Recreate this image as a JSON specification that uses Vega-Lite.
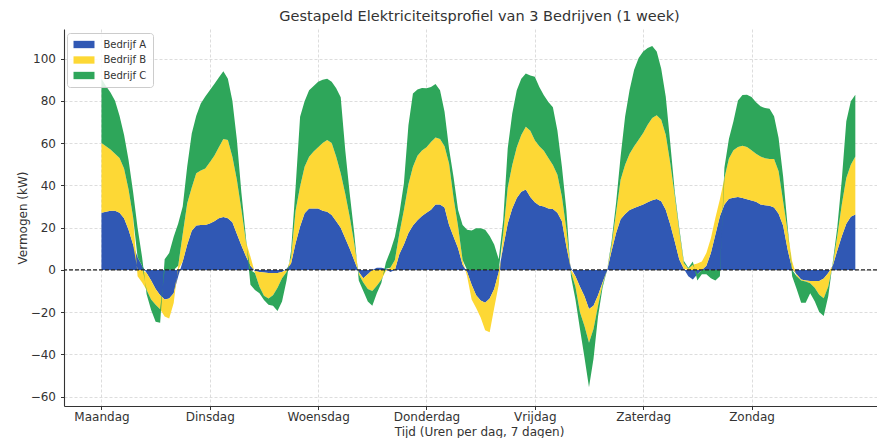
{
  "$schema": "https://vega.github.io/schema/vega-lite/v6.json",
  "width": 813,
  "height": 377,
  "autosize": {"type": "none"},
  "padding": {"left": 64, "top": 29, "right": 0, "bottom": 32},
  "background": "white",
  "title": {"text": "Gestapeld Elektriciteitsprofiel van 3 Bedrijven (1 week)", "font": "DejaVu Sans", "fontSize": 14.5, "fontWeight": "normal", "color": "#333333", "anchor": "middle", "dx": 9, "offset": 5},
  "layer": [
    {
      "data": {"values": [
        {"uur":0,"Bedrijf A":27,"Bedrijf B":33,"Bedrijf C":30.5},
        {"uur":1,"Bedrijf A":27.5,"Bedrijf B":31,"Bedrijf C":28.5},
        {"uur":2,"Bedrijf A":28,"Bedrijf B":29,"Bedrijf C":27},
        {"uur":3,"Bedrijf A":28,"Bedrijf B":27,"Bedrijf C":25},
        {"uur":4,"Bedrijf A":27,"Bedrijf B":26,"Bedrijf C":20},
        {"uur":5,"Bedrijf A":24.5,"Bedrijf B":23.5,"Bedrijf C":16},
        {"uur":6,"Bedrijf A":19,"Bedrijf B":19,"Bedrijf C":14},
        {"uur":7,"Bedrijf A":12,"Bedrijf B":13,"Bedrijf C":12},
        {"uur":8,"Bedrijf A":6,"Bedrijf B":-3,"Bedrijf C":14},
        {"uur":9,"Bedrijf A":2,"Bedrijf B":-6,"Bedrijf C":4},
        {"uur":10,"Bedrijf A":-1.5,"Bedrijf B":-8,"Bedrijf C":-2},
        {"uur":11,"Bedrijf A":-5,"Bedrijf B":-9,"Bedrijf C":-5},
        {"uur":12,"Bedrijf A":-9,"Bedrijf B":-7.5,"Bedrijf C":-8},
        {"uur":13,"Bedrijf A":-12,"Bedrijf B":-6.6,"Bedrijf C":-6.4},
        {"uur":14,"Bedrijf A":-14,"Bedrijf B":-8,"Bedrijf C":5},
        {"uur":15,"Bedrijf A":-13.5,"Bedrijf B":-9.5,"Bedrijf C":8},
        {"uur":16,"Bedrijf A":-11,"Bedrijf B":-4.7,"Bedrijf C":15.7},
        {"uur":17,"Bedrijf A":-3,"Bedrijf B":2,"Bedrijf C":20},
        {"uur":18,"Bedrijf A":4,"Bedrijf B":13,"Bedrijf C":13},
        {"uur":19,"Bedrijf A":12,"Bedrijf B":19.5,"Bedrijf C":17.5},
        {"uur":20,"Bedrijf A":18.5,"Bedrijf B":20.5,"Bedrijf C":25.5},
        {"uur":21,"Bedrijf A":21,"Bedrijf B":24.7,"Bedrijf C":27.3},
        {"uur":22,"Bedrijf A":21.3,"Bedrijf B":25.7,"Bedrijf C":31.7},
        {"uur":23,"Bedrijf A":21.3,"Bedrijf B":26.7,"Bedrijf C":34},
        {"uur":24,"Bedrijf A":22,"Bedrijf B":29,"Bedrijf C":34},
        {"uur":25,"Bedrijf A":23,"Bedrijf B":31,"Bedrijf C":34},
        {"uur":26,"Bedrijf A":24.5,"Bedrijf B":33.5,"Bedrijf C":33},
        {"uur":27,"Bedrijf A":25,"Bedrijf B":37,"Bedrijf C":32},
        {"uur":28,"Bedrijf A":24.5,"Bedrijf B":37,"Bedrijf C":29},
        {"uur":29,"Bedrijf A":22.5,"Bedrijf B":31,"Bedrijf C":26.5},
        {"uur":30,"Bedrijf A":17,"Bedrijf B":25.5,"Bedrijf C":19},
        {"uur":31,"Bedrijf A":11.5,"Bedrijf B":17,"Bedrijf C":8},
        {"uur":32,"Bedrijf A":6.5,"Bedrijf B":7,"Bedrijf C":2},
        {"uur":33,"Bedrijf A":2,"Bedrijf B":4.3,"Bedrijf C":-7},
        {"uur":34,"Bedrijf A":-0.5,"Bedrijf B":-1,"Bedrijf C":-8},
        {"uur":35,"Bedrijf A":-1,"Bedrijf B":-7,"Bedrijf C":-3},
        {"uur":36,"Bedrijf A":-1.2,"Bedrijf B":-11,"Bedrijf C":-2},
        {"uur":37,"Bedrijf A":-1.5,"Bedrijf B":-12,"Bedrijf C":-3},
        {"uur":38,"Bedrijf A":-1.5,"Bedrijf B":-10.5,"Bedrijf C":-5},
        {"uur":39,"Bedrijf A":-1.5,"Bedrijf B":-7,"Bedrijf C":-11},
        {"uur":40,"Bedrijf A":-1,"Bedrijf B":-3,"Bedrijf C":-11},
        {"uur":41,"Bedrijf A":0.5,"Bedrijf B":-1,"Bedrijf C":-4},
        {"uur":42,"Bedrijf A":3,"Bedrijf B":3,"Bedrijf C":3},
        {"uur":43,"Bedrijf A":12.6,"Bedrijf B":15.4,"Bedrijf C":11},
        {"uur":44,"Bedrijf A":20.5,"Bedrijf B":19,"Bedrijf C":33},
        {"uur":45,"Bedrijf A":26.8,"Bedrijf B":22,"Bedrijf C":31},
        {"uur":46,"Bedrijf A":29,"Bedrijf B":24.5,"Bedrijf C":31.5},
        {"uur":47,"Bedrijf A":29,"Bedrijf B":27,"Bedrijf C":31},
        {"uur":48,"Bedrijf A":29,"Bedrijf B":29,"Bedrijf C":31},
        {"uur":49,"Bedrijf A":28,"Bedrijf B":32,"Bedrijf C":30},
        {"uur":50,"Bedrijf A":27.5,"Bedrijf B":34,"Bedrijf C":29},
        {"uur":51,"Bedrijf A":26,"Bedrijf B":34,"Bedrijf C":29},
        {"uur":52,"Bedrijf A":23,"Bedrijf B":30.5,"Bedrijf C":32.5},
        {"uur":53,"Bedrijf A":20,"Bedrijf B":25.7,"Bedrijf C":36},
        {"uur":54,"Bedrijf A":15,"Bedrijf B":21,"Bedrijf C":20.7},
        {"uur":55,"Bedrijf A":10,"Bedrijf B":15,"Bedrijf C":11},
        {"uur":56,"Bedrijf A":4.5,"Bedrijf B":8,"Bedrijf C":4.7},
        {"uur":57,"Bedrijf A":-1,"Bedrijf B":-1,"Bedrijf C":-3},
        {"uur":58,"Bedrijf A":-4,"Bedrijf B":-2,"Bedrijf C":-4},
        {"uur":59,"Bedrijf A":-2,"Bedrijf B":-7,"Bedrijf C":-6},
        {"uur":60,"Bedrijf A":0,"Bedrijf B":-10,"Bedrijf C":-7},
        {"uur":61,"Bedrijf A":1,"Bedrijf B":-7.5,"Bedrijf C":-3.5},
        {"uur":62,"Bedrijf A":1,"Bedrijf B":-4.7,"Bedrijf C":-1.5},
        {"uur":63,"Bedrijf A":0.5,"Bedrijf B":-0.5,"Bedrijf C":3},
        {"uur":64,"Bedrijf A":-1,"Bedrijf B":1,"Bedrijf C":8},
        {"uur":65,"Bedrijf A":0,"Bedrijf B":4.7,"Bedrijf C":11},
        {"uur":66,"Bedrijf A":7.5,"Bedrijf B":9.8,"Bedrijf C":9.5},
        {"uur":67,"Bedrijf A":12,"Bedrijf B":16.3,"Bedrijf C":12.7},
        {"uur":68,"Bedrijf A":17.5,"Bedrijf B":23,"Bedrijf C":28},
        {"uur":69,"Bedrijf A":21,"Bedrijf B":27.8,"Bedrijf C":34.7},
        {"uur":70,"Bedrijf A":23.5,"Bedrijf B":30.5,"Bedrijf C":31.4},
        {"uur":71,"Bedrijf A":25.5,"Bedrijf B":31,"Bedrijf C":29.6},
        {"uur":72,"Bedrijf A":27,"Bedrijf B":31,"Bedrijf C":28},
        {"uur":73,"Bedrijf A":28.5,"Bedrijf B":32,"Bedrijf C":26},
        {"uur":74,"Bedrijf A":31,"Bedrijf B":31.7,"Bedrijf C":25.3},
        {"uur":75,"Bedrijf A":31,"Bedrijf B":31,"Bedrijf C":23},
        {"uur":76,"Bedrijf A":29.5,"Bedrijf B":29,"Bedrijf C":16.4},
        {"uur":77,"Bedrijf A":21.3,"Bedrijf B":29,"Bedrijf C":7},
        {"uur":78,"Bedrijf A":15.7,"Bedrijf B":18.2,"Bedrijf C":10},
        {"uur":79,"Bedrijf A":10.2,"Bedrijf B":10.3,"Bedrijf C":7.8},
        {"uur":80,"Bedrijf A":2.5,"Bedrijf B":2.2,"Bedrijf C":16.6},
        {"uur":81,"Bedrijf A":-1,"Bedrijf B":-2,"Bedrijf C":19},
        {"uur":82,"Bedrijf A":-7,"Bedrijf B":-7,"Bedrijf C":18.6},
        {"uur":83,"Bedrijf A":-12,"Bedrijf B":-6,"Bedrijf C":19.7},
        {"uur":84,"Bedrijf A":-14.5,"Bedrijf B":-8,"Bedrijf C":19.7},
        {"uur":85,"Bedrijf A":-15.5,"Bedrijf B":-13,"Bedrijf C":19},
        {"uur":86,"Bedrijf A":-13.5,"Bedrijf B":-16,"Bedrijf C":16},
        {"uur":87,"Bedrijf A":-9,"Bedrijf B":-9,"Bedrijf C":12},
        {"uur":88,"Bedrijf A":-1,"Bedrijf B":-6,"Bedrijf C":5},
        {"uur":89,"Bedrijf A":11,"Bedrijf B":6.3,"Bedrijf C":6.3},
        {"uur":90,"Bedrijf A":22,"Bedrijf B":17,"Bedrijf C":18.6},
        {"uur":91,"Bedrijf A":29,"Bedrijf B":20.6,"Bedrijf C":24.4},
        {"uur":92,"Bedrijf A":34,"Bedrijf B":24,"Bedrijf C":27},
        {"uur":93,"Bedrijf A":37,"Bedrijf B":26.8,"Bedrijf C":26.7},
        {"uur":94,"Bedrijf A":38,"Bedrijf B":29.7,"Bedrijf C":25.3},
        {"uur":95,"Bedrijf A":34.5,"Bedrijf B":31.3,"Bedrijf C":26.2},
        {"uur":96,"Bedrijf A":32,"Bedrijf B":29.4,"Bedrijf C":30},
        {"uur":97,"Bedrijf A":30.5,"Bedrijf B":28,"Bedrijf C":28},
        {"uur":98,"Bedrijf A":30,"Bedrijf B":26.4,"Bedrijf C":26.3},
        {"uur":99,"Bedrijf A":29,"Bedrijf B":24,"Bedrijf C":26.5},
        {"uur":100,"Bedrijf A":28.8,"Bedrijf B":20.8,"Bedrijf C":27.4},
        {"uur":101,"Bedrijf A":27,"Bedrijf B":18,"Bedrijf C":21},
        {"uur":102,"Bedrijf A":23,"Bedrijf B":11.6,"Bedrijf C":14.2},
        {"uur":103,"Bedrijf A":11,"Bedrijf B":8,"Bedrijf C":9},
        {"uur":104,"Bedrijf A":1,"Bedrijf B":-1,"Bedrijf C":-2},
        {"uur":105,"Bedrijf A":-3,"Bedrijf B":-5,"Bedrijf C":-6},
        {"uur":106,"Bedrijf A":-8,"Bedrijf B":-12,"Bedrijf C":-8},
        {"uur":107,"Bedrijf A":-12.5,"Bedrijf B":-14,"Bedrijf C":-15},
        {"uur":108,"Bedrijf A":-18.5,"Bedrijf B":-16,"Bedrijf C":-21},
        {"uur":109,"Bedrijf A":-17,"Bedrijf B":-11,"Bedrijf C":-14},
        {"uur":110,"Bedrijf A":-12,"Bedrijf B":-5,"Bedrijf C":-5},
        {"uur":111,"Bedrijf A":-6,"Bedrijf B":-1,"Bedrijf C":-1.5},
        {"uur":112,"Bedrijf A":-0.5,"Bedrijf B":0,"Bedrijf C":0},
        {"uur":113,"Bedrijf A":9,"Bedrijf B":2.5,"Bedrijf C":2},
        {"uur":114,"Bedrijf A":17.5,"Bedrijf B":9.5,"Bedrijf C":4.7},
        {"uur":115,"Bedrijf A":24,"Bedrijf B":18.7,"Bedrijf C":11},
        {"uur":116,"Bedrijf A":26.5,"Bedrijf B":23.3,"Bedrijf C":22.8},
        {"uur":117,"Bedrijf A":28.4,"Bedrijf B":26.6,"Bedrijf C":30.3},
        {"uur":118,"Bedrijf A":29.3,"Bedrijf B":29.2,"Bedrijf C":36.2},
        {"uur":119,"Bedrijf A":30.1,"Bedrijf B":31.5,"Bedrijf C":38.7},
        {"uur":120,"Bedrijf A":30.9,"Bedrijf B":33.9,"Bedrijf C":38.6},
        {"uur":121,"Bedrijf A":32,"Bedrijf B":36.7,"Bedrijf C":36.3},
        {"uur":122,"Bedrijf A":33,"Bedrijf B":38.9,"Bedrijf C":34},
        {"uur":123,"Bedrijf A":33.6,"Bedrijf B":39.6,"Bedrijf C":30.2},
        {"uur":124,"Bedrijf A":32.5,"Bedrijf B":38.5,"Bedrijf C":24.2},
        {"uur":125,"Bedrijf A":28.5,"Bedrijf B":35.5,"Bedrijf C":18.1},
        {"uur":126,"Bedrijf A":21.5,"Bedrijf B":29,"Bedrijf C":9.5},
        {"uur":127,"Bedrijf A":13.4,"Bedrijf B":21.6,"Bedrijf C":2},
        {"uur":128,"Bedrijf A":4.9,"Bedrijf B":13.4,"Bedrijf C":1.5},
        {"uur":129,"Bedrijf A":0.5,"Bedrijf B":2.8,"Bedrijf C":1},
        {"uur":130,"Bedrijf A":-3,"Bedrijf B":0.5,"Bedrijf C":0.5},
        {"uur":131,"Bedrijf A":-4.5,"Bedrijf B":2.5,"Bedrijf C":1.5},
        {"uur":132,"Bedrijf A":-2,"Bedrijf B":3,"Bedrijf C":-3},
        {"uur":133,"Bedrijf A":0,"Bedrijf B":4,"Bedrijf C":-2},
        {"uur":134,"Bedrijf A":2,"Bedrijf B":6,"Bedrijf C":-2},
        {"uur":135,"Bedrijf A":8,"Bedrijf B":7,"Bedrijf C":-4},
        {"uur":136,"Bedrijf A":16.7,"Bedrijf B":8,"Bedrijf C":-5},
        {"uur":137,"Bedrijf A":25.4,"Bedrijf B":8,"Bedrijf C":-3},
        {"uur":138,"Bedrijf A":31,"Bedrijf B":12.5,"Bedrijf C":5},
        {"uur":139,"Bedrijf A":33.7,"Bedrijf B":19,"Bedrijf C":9.4},
        {"uur":140,"Bedrijf A":34.2,"Bedrijf B":22.4,"Bedrijf C":13.7},
        {"uur":141,"Bedrijf A":34.5,"Bedrijf B":23.7,"Bedrijf C":22},
        {"uur":142,"Bedrijf A":34,"Bedrijf B":24.8,"Bedrijf C":24},
        {"uur":143,"Bedrijf A":33.4,"Bedrijf B":24.8,"Bedrijf C":24.7},
        {"uur":144,"Bedrijf A":32.8,"Bedrijf B":23.8,"Bedrijf C":25.2},
        {"uur":145,"Bedrijf A":32.2,"Bedrijf B":22.8,"Bedrijf C":24.3},
        {"uur":146,"Bedrijf A":31,"Bedrijf B":22.7,"Bedrijf C":23.7},
        {"uur":147,"Bedrijf A":30.6,"Bedrijf B":22.2,"Bedrijf C":23.8},
        {"uur":148,"Bedrijf A":30.4,"Bedrijf B":22.1,"Bedrijf C":23.8},
        {"uur":149,"Bedrijf A":29.5,"Bedrijf B":23,"Bedrijf C":20.2},
        {"uur":150,"Bedrijf A":26.6,"Bedrijf B":20.1,"Bedrijf C":15.7},
        {"uur":151,"Bedrijf A":21,"Bedrijf B":11.5,"Bedrijf C":11.8},
        {"uur":152,"Bedrijf A":9.6,"Bedrijf B":8.7,"Bedrijf C":2.4},
        {"uur":153,"Bedrijf A":0.5,"Bedrijf B":3.6,"Bedrijf C":-3},
        {"uur":154,"Bedrijf A":-2,"Bedrijf B":-1,"Bedrijf C":-6},
        {"uur":155,"Bedrijf A":-4.5,"Bedrijf B":-0.5,"Bedrijf C":-10.5},
        {"uur":156,"Bedrijf A":-5,"Bedrijf B":-0.5,"Bedrijf C":-10},
        {"uur":157,"Bedrijf A":-5.3,"Bedrijf B":-1,"Bedrijf C":-4.7},
        {"uur":158,"Bedrijf A":-5.3,"Bedrijf B":-3.2,"Bedrijf C":-6.3},
        {"uur":159,"Bedrijf A":-5.3,"Bedrijf B":-6.4,"Bedrijf C":-8.2},
        {"uur":160,"Bedrijf A":-4.1,"Bedrijf B":-9.3,"Bedrijf C":-8.4},
        {"uur":161,"Bedrijf A":-1.5,"Bedrijf B":-6.3,"Bedrijf C":-4.7},
        {"uur":162,"Bedrijf A":2,"Bedrijf B":0.5,"Bedrijf C":1},
        {"uur":163,"Bedrijf A":9.2,"Bedrijf B":6.9,"Bedrijf C":4},
        {"uur":164,"Bedrijf A":15.9,"Bedrijf B":15,"Bedrijf C":11.8},
        {"uur":165,"Bedrijf A":21.9,"Bedrijf B":21.6,"Bedrijf C":26.8},
        {"uur":166,"Bedrijf A":25.1,"Bedrijf B":24.7,"Bedrijf C":30},
        {"uur":167,"Bedrijf A":26.2,"Bedrijf B":27.5,"Bedrijf C":29.2}
      ]},
      "transform": [{"fold": ["Bedrijf A", "Bedrijf B", "Bedrijf C"], "as": ["bedrijf", "vermogen"]}],
      "mark": {"type": "area", "interpolate": "linear", "opacity": 1},
      "encoding": {
        "x": {"field": "uur", "type": "quantitative",
          "scale": {"domain": [-8.3, 171.8], "nice": false, "zero": false},
          "axis": {"values": [0, 24, 48, 72, 96, 120, 144],
            "labelExpr": "['Maandag','Dinsdag','Woensdag','Donderdag','Vrijdag','Zaterdag','Zondag'][round(datum.value/24)]",
            "title": "Tijd (Uren per dag, 7 dagen)", "titleX": 415, "labelPadding": 2, "titlePadding": 4}},
        "y": {"field": "vermogen", "type": "quantitative", "stack": "zero",
          "scale": {"domain": [-64.4, 114], "nice": false},
          "axis": {"values": [-60, -40, -20, 0, 20, 40, 60, 80, 100], "title": "Vermogen (kW)", "labelPadding": 5, "titlePadding": 1}},
        "color": {"field": "bedrijf", "type": "nominal",
          "scale": {"domain": ["Bedrijf A", "Bedrijf B", "Bedrijf C"], "range": ["#3058b4", "#fdd835", "#2ea65a"]},
          "legend": {"orient": "none", "legendX": 3, "legendY": 4, "title": null,
            "symbolType": "M-2,-0.7L2,-0.7L2,0.7L-2,0.7Z", "symbolSize": 110, "symbolOffset": 5.5, "symbolStrokeWidth": 0, "symbolOpacity": 1,
            "labelFont": "DejaVu Sans", "labelFontSize": 10, "labelColor": "#333333", "labelOffset": 14,
            "strokeColor": "#cccccc", "fillColor": "rgba(255,255,255,0.85)", "padding": 6, "cornerRadius": 3, "rowPadding": 4.5}},
        "order": {"field": "bedrijf", "sort": "ascending"}
      }
    },
    {
      "data": {"values": [{}]},
      "mark": {"type": "rule", "strokeDash": [4, 2], "color": "#222222", "strokeWidth": 1.2},
      "encoding": {"y": {"datum": 0}}
    }
  ],
  "config": {
    "view": {"stroke": null},
    "axis": {
      "domainColor": "#333333", "domainWidth": 1.1,
      "tickColor": "#333333", "tickSize": 3.5, "tickWidth": 1,
      "gridColor": "#d4d4d4", "gridDash": [3, 2], "gridWidth": 0.8,
      "labelFont": "DejaVu Sans", "labelFontSize": 12, "labelColor": "#333333",
      "titleFont": "DejaVu Sans", "titleFontSize": 12, "titleFontWeight": "normal", "titleColor": "#333333"
    }
  }
}
